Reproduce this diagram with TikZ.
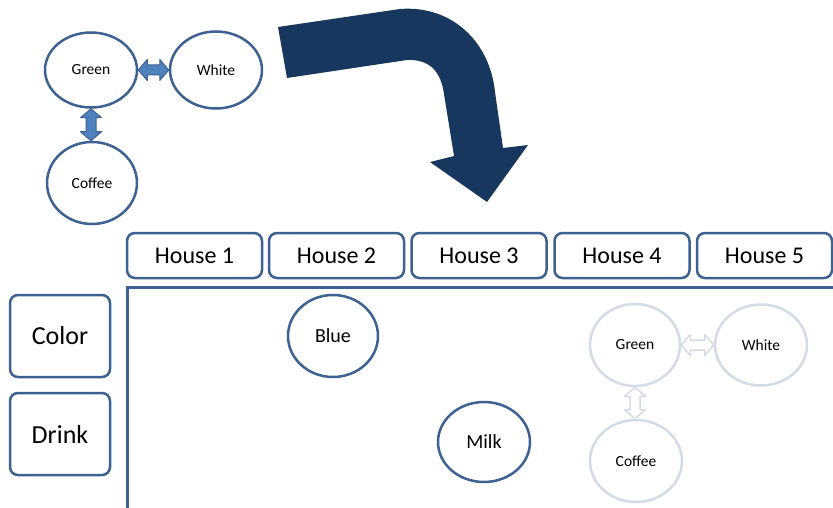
\documentclass[tikz,border=0pt]{standalone}
\usepackage{fontspec}
\setmainfont{Carlito}
\usetikzlibrary{shapes.geometric,calc}

\definecolor{edgeblue}{HTML}{3D6190}
\definecolor{fillblue}{HTML}{4F81BD}
\definecolor{navy}{HTML}{17375E}
\definecolor{faded}{HTML}{D3DBE6}

\tikzset{
  bubble/.style n args={2}{ellipse, draw=edgeblue, line width=2.5pt, fill=white,
    inner sep=0pt, minimum width=#1, minimum height=#2},
  paleBubble/.style n args={2}{bubble={#1}{#2}, draw=faded},
  small/.style={font=\fontsize{15.5}{18}\selectfont},
  medium/.style={font=\fontsize{20}{22}\selectfont},
  tab/.style={draw=edgeblue, line width=2.5pt, rounded corners=8pt, fill=white,
    minimum width=135pt, minimum height=45pt, inner sep=0pt,
    font=\fontsize{24}{26}\selectfont},
  rowtab/.style={tab, minimum width=100pt, minimum height=82pt,
    font=\fontsize{26}{28}\selectfont},
  solidlink/.style={fill=fillblue, draw=edgeblue, line width=1pt, line join=round},
  palelink/.style={fill=white, draw=faded, line width=1.5pt, line join=round},
}

% horizontal double-headed block arrow between two anchors
\newcommand\hlink[3]{%
  \path[#1] let \p1=(#2), \p2=(#3) in
    (\x1,\y1) -- (\x1+9pt,\y1+10.5pt) -- (\x1+9pt,\y1+5pt) -- (\x2-9pt,\y1+5pt)
    -- (\x2-9pt,\y1+10.5pt) -- (\x2,\y1) -- (\x2-9pt,\y1-10.5pt) -- (\x2-9pt,\y1-5pt)
    -- (\x1+9pt,\y1-5pt) -- (\x1+9pt,\y1-10.5pt) -- cycle;}
% vertical double-headed block arrow, from an upper anchor to a lower one
\newcommand\vlink[3]{%
  \path[#1] let \p1=(#2), \p2=(#3) in
    (\x1,\y1) -- (\x1+10.5pt,\y1-9pt) -- (\x1+5pt,\y1-9pt) -- (\x1+5pt,\y2+9pt)
    -- (\x1+10.5pt,\y2+9pt) -- (\x1,\y2) -- (\x1-10.5pt,\y2+9pt) -- (\x1-5pt,\y2+9pt)
    -- (\x1-5pt,\y1-9pt) -- (\x1-10.5pt,\y1-9pt) -- cycle;}

\begin{document}
\begin{tikzpicture}[x=1pt, y=-1pt]
\useasboundingbox (0,0) rectangle (833,508);

% clue: green next to white, green drinks coffee
\node[bubble={92pt}{75pt}, small] (g) at (91,70) {Green};
\node[bubble={92pt}{77pt}, small] (w) at (216,70) {White};
\node[bubble={90pt}{82pt}, small] (c) at (92,183) {Coffee};
\hlink{solidlink}{g.east}{w.west}
\vlink{solidlink}{g.south}{c.north}

% big bent arrow
\fill[navy] (278,27) -- (400,9) .. controls (452,5) and (490,42) .. (495,92)
  -- (503,148) -- (528,145) -- (487,202) -- (430,162) -- (454,156)
  -- (444,94) .. controls (441,72) and (430,59) .. (407,60) -- (287,78) -- cycle;

% house headers
\node[tab] (h1) at (194.5,255.5) {House 1};
\node[tab] (h2) at (336.5,255.5) {House 2};
\node[tab] (h3) at (479,255.5) {House 3};
\node[tab] (h4) at (622,255.5) {House 4};
\node[tab] (h5) at (764.5,255.5) {House 5};

% row headers
\node[rowtab] (color) at (60,336) {Color};
\node[rowtab] (drink) at (60,434) {Drink};

% grid frame
\coordinate (fr) at (840,287);
\coordinate (fc) at (127,287);
\coordinate (fb) at (127,515);
\draw[edgeblue, line width=3pt] (fr) -- (fc) -- (fb);

% placed facts
\node[bubble={90pt}{82pt}, medium] (blue) at (333,336) {Blue};
\node[bubble={92pt}{80pt}, medium] (milk) at (484,442) {Milk};

% candidate placement, faded
\node[paleBubble={90pt}{82pt}, small] (pg) at (635,345) {Green};
\node[paleBubble={92pt}{81pt}, small] (pw) at (761,345) {White};
\node[paleBubble={92pt}{82pt}, small] (pc) at (636,461) {Coffee};
\hlink{palelink}{pg.east}{pw.west}
\vlink{palelink}{pg.south}{pc.north}
\end{tikzpicture}
\end{document}
